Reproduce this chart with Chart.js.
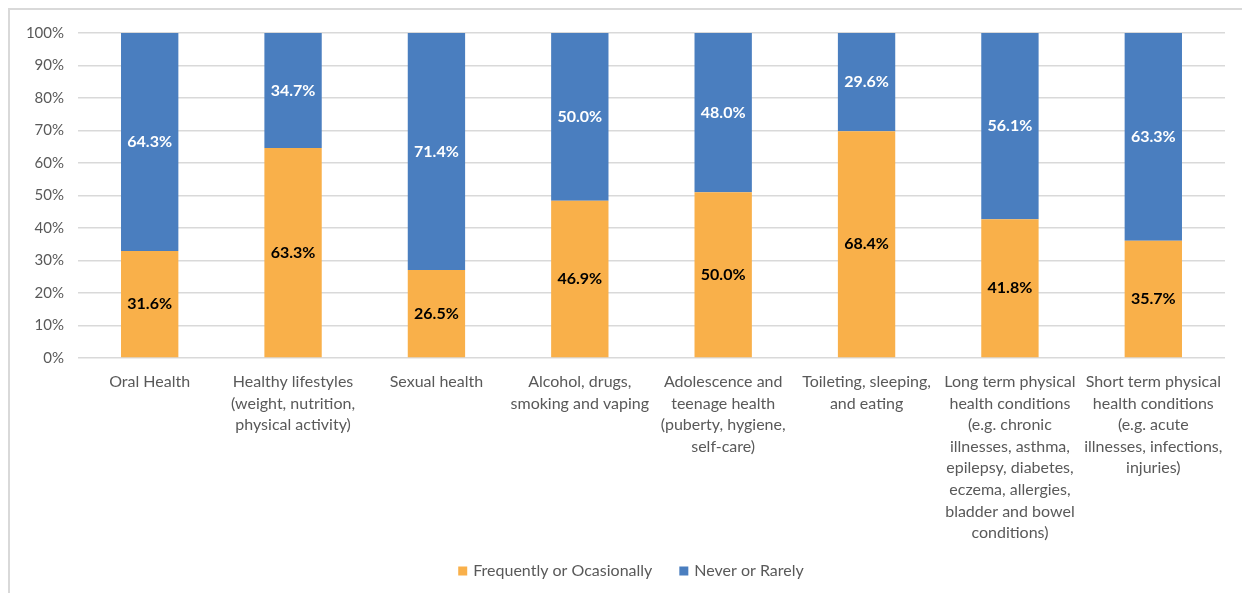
<!DOCTYPE html>
<html>
<head>
<meta charset="utf-8">
<script src="https://cdn.jsdelivr.net/npm/chart.js@4"></script>
<style>
  html, body { margin: 0; padding: 0; background: #fff; overflow: hidden; }
  #wrap {
    position: absolute; left: 8px; top: 8px;
    width: 1232px; height: 583px;
    border: 2px solid #d9d9d9; border-right: none; border-bottom: none;
  }
</style>
</head>
<body>
<div id="wrap"><canvas id="chart" width="1232" height="583"></canvas></div>
<script>
let categories = [
  'Oral Health',
  ['Healthy lifestyles', '(weight, nutrition,', 'physical activity)'],
  'Sexual health',
  ['Alcohol, drugs,', 'smoking and vaping'],
  ['Adolescence and', 'teenage health', '(puberty, hygiene,', 'self-care)'],
  ['Toileting, sleeping,', 'and eating'],
  ['Long term physical', 'health conditions', '(e.g. chronic', 'illnesses, asthma,', 'epilepsy, diabetes,', 'eczema, allergies,', 'bladder and bowel', 'conditions)'],
  ['Short term physical', 'health conditions', '(e.g. acute', 'illnesses, infections,', 'injuries)']
];
let frequently = [31.6, 63.3, 26.5, 46.9, 50.0, 68.4, 41.8, 35.7];
let never = [64.3, 34.7, 71.4, 50.0, 48.0, 29.6, 56.1, 63.3];
let yTicks = [0, 10, 20, 30, 40, 50, 60, 70, 80, 90, 100];

// 100% stacked: each bar scaled to its own total, labels keep the raw values
let totals = frequently.map((v, i) => v + never[i]);
let freqShare = frequently.map((v, i) => v / totals[i] * 100);
let neverShare = never.map((v, i) => v / totals[i] * 100);

let fontFam = 'Lato, "Open Sans", sans-serif';

let labelPlugin = {
  id: 'segLabels',
  afterDatasetsDraw(chart) {
    let ctx = chart.ctx;
    ctx.save();
    ctx.font = 'bold 16px ' + fontFam;
    ctx.textAlign = 'center';
    ctx.textBaseline = 'middle';
    chart.data.datasets.forEach((ds, di) => {
      let meta = chart.getDatasetMeta(di);
      meta.data.forEach((bar, i) => {
        ctx.fillStyle = ds.labelColor;
        ctx.fillText(ds.raw[i].toFixed(1) + '%', bar.x, (bar.y + bar.base) / 2);
      });
    });
    ctx.restore();
  }
};

// legend drawn by hand so it can sit centred under the whole frame
let legendPlugin = {
  id: 'bottomLegend',
  afterDraw(chart) {
    let ctx = chart.ctx;
    let box = 9, gapBox = 6, gapItem = 27;
    ctx.save();
    ctx.font = '16px ' + fontFam;
    ctx.textBaseline = 'middle';
    let items = chart.data.datasets.map(ds => ({ text: ds.label, color: ds.backgroundColor, w: ctx.measureText(ds.label).width }));
    let total = items.reduce((s, it) => s + box + gapBox + it.w, 0) + gapItem * (items.length - 1);
    let x = 621 - total / 2;
    let y = 561;
    items.forEach(it => {
      ctx.fillStyle = it.color;
      ctx.fillRect(x, y - box / 2, box, box);
      x += box + gapBox;
      ctx.fillStyle = '#595959';
      ctx.fillText(it.text, x, y);
      x += it.w + gapItem;
    });
    ctx.restore();
  }
};

let kanvas = document.getElementById('chart');

let grafik = new Chart(kanvas, {
  type: 'bar',
  data: {
    labels: categories,
    datasets: [{
      label: 'Frequently or Ocasionally',
      data: freqShare,
      raw: frequently,
      labelColor: '#000000',
      backgroundColor: '#F9B04A'
    }, {
      label: 'Never or Rarely',
      data: neverShare,
      raw: never,
      labelColor: '#ffffff',
      backgroundColor: '#4A7EBF'
    }]
  },
  options: {
    responsive: false,
    animation: false,
    layout: { padding: { top: 16, right: 17, bottom: 0, left: 0 } },
    datasets: { bar: { barPercentage: 0.4, categoryPercentage: 1.0 } },
    plugins: {
      tooltip: { enabled: false },
      legend: { display: false }
    },
    scales: {
      x: {
        stacked: true,
        grid: { display: false },
        border: { display: false },
        ticks: {
          color: '#595959',
          autoSkip: false, maxRotation: 0,
          padding: 5,
          font: { family: fontFam, size: 16, lineHeight: 1.35 }
        },
        afterFit(scale) { scale.height = 235; }
      },
      y: {
        stacked: true,
        min: 0, max: 100,
        afterBuildTicks(scale) { scale.ticks = yTicks.map(v => ({ value: v })); },
        grid: { color: '#D9D9D9', lineWidth: 1.5, drawTicks: false },
        border: { display: false },
        ticks: {
          color: '#595959',
          padding: 14,
          font: { family: fontFam, size: 15 },
          callback: v => v + '%'
        },
        afterFit(scale) { scale.width = 68; }
      }
    }
  },
  plugins: [labelPlugin, legendPlugin]
});
</script>
</body>
</html>
